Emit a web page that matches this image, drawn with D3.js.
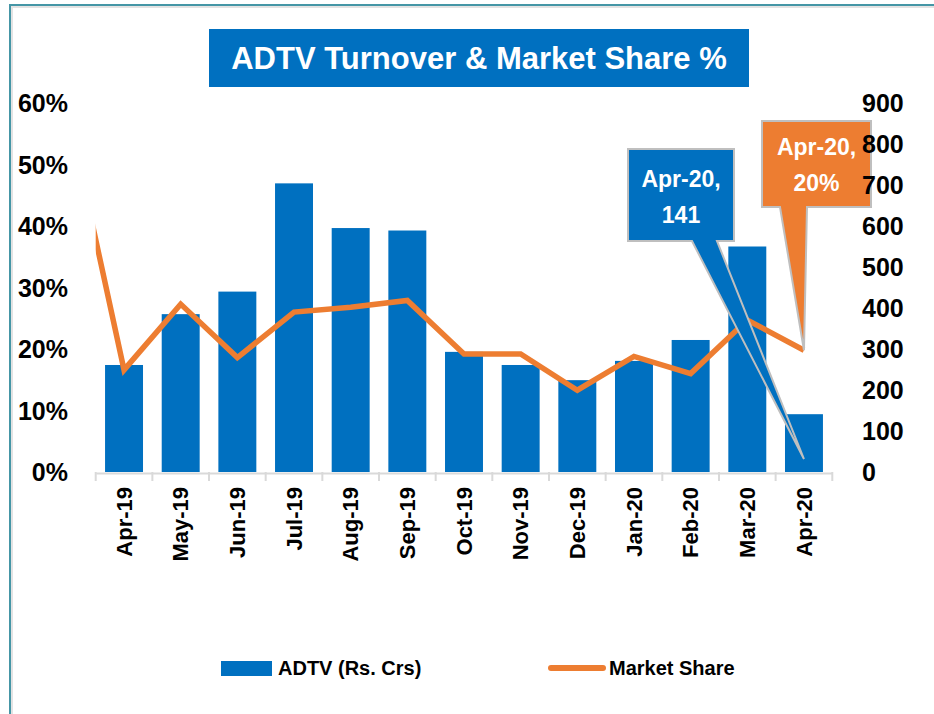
<!DOCTYPE html>
<html>
<head>
<meta charset="utf-8">
<script src="https://cdn.jsdelivr.net/npm/d3@7"></script>
<style>
  body { margin: 0; background: #fff; }
  text { font-family: "Liberation Sans", Arial, sans-serif; }
</style>
</head>
<body>
<div id="chart"></div>
<script>
// chart data
var months = ["Apr-19", "May-19", "Jun-19", "Jul-19", "Aug-19", "Sep-19", "Oct-19",
  "Nov-19", "Dec-19", "Jan-20", "Feb-20", "Mar-20", "Apr-20"];
var adtv = [261, 385, 440, 704, 595, 589, 293, 261, 224, 271, 322, 550, 141];
var marketShare = [0.166, 0.273, 0.186, 0.26, 0.268, 0.279, 0.192, 0.192, 0.133, 0.188, 0.16, 0.247, 0.198];
// previous month (Mar-19) share, only its segment into the plot is visible
var shareLeadIn = 0.59;
var leftTicks = [0, 0.1, 0.2, 0.3, 0.4, 0.5, 0.6];
var rightTicks = [0, 100, 200, 300, 400, 500, 600, 700, 800, 900];

var width = 934;
var height = 714;
var blue = "#0070c0";
var orange = "#ed7d31";

var svg = d3.select("#chart")
  .append("svg")
  .attr("width", width)
  .attr("height", height);

// outer frame (left + top edges only)
svg.append("path")
  .attr("d", "M12,714 V7 H934")
  .attr("fill", "none")
  .attr("stroke", "#e3e3e3")
  .attr("stroke-width", 2);
svg.append("path")
  .attr("d", "M10,714 V5 H934")
  .attr("fill", "none")
  .attr("stroke", "#4596a6")
  .attr("stroke-width", 2);

// title
svg.append("rect")
  .attr("x", 209)
  .attr("y", 29)
  .attr("width", 540)
  .attr("height", 58)
  .attr("fill", blue);
svg.append("text")
  .attr("x", 479)
  .attr("y", 69)
  .attr("text-anchor", "middle")
  .attr("fill", "#fff")
  .style("font-size", "31px")
  .style("font-weight", "bold")
  .text("ADTV Turnover & Market Share %");

var plotLeft = 95.7;
var plotRight = 832.3;
var plotTop = 103;
var plotBottom = 472;

var x = d3.scaleBand()
  .domain(months)
  .range([plotLeft, plotRight])
  .paddingInner(0.33)
  .paddingOuter(0.165);

var yLeft = d3.scaleLinear().domain([0, 0.6]).range([plotBottom, plotTop]);
var yRight = d3.scaleLinear().domain([0, 900]).range([plotBottom, plotTop]);

// bars
svg.selectAll(".bar")
  .data(adtv)
  .enter()
  .append("rect")
  .attr("class", "bar")
  .attr("x", function (d, i) { return x(months[i]); })
  .attr("y", function (d) { return yRight(d); })
  .attr("width", x.bandwidth())
  .attr("height", function (d) { return plotBottom - yRight(d); })
  .attr("fill", blue);

// x axis
var xAxis = svg.append("g")
  .attr("transform", "translate(0," + (plotBottom + 1) + ")")
  .call(d3.axisBottom(x).tickSize(0).tickSizeOuter(0));
xAxis.select(".domain")
  .attr("stroke", "#d9d9d9")
  .attr("stroke-width", 2);
xAxis.selectAll("text")
  .attr("transform", "rotate(-90)")
  .attr("text-anchor", "end")
  .attr("x", -14)
  .attr("y", 0)
  .attr("dy", "0.35em")
  .attr("fill", "#000")
  .style("font-size", "22px")
  .style("font-weight", "bold")
  .style("font-family", "'Liberation Sans', Arial, sans-serif");

// category boundary ticks
var bounds = d3.range(months.length + 1);
svg.selectAll(".bound")
  .data(bounds)
  .enter()
  .append("line")
  .attr("class", "bound")
  .attr("x1", function (d) { return plotLeft + d * x.step(); })
  .attr("x2", function (d) { return plotLeft + d * x.step(); })
  .attr("y1", plotBottom)
  .attr("y2", plotBottom + 9)
  .attr("stroke", "#d9d9d9")
  .attr("stroke-width", 2);

// market share line, clipped to the plot area
svg.append("clipPath")
  .attr("id", "plotClip")
  .append("rect")
  .attr("x", plotLeft)
  .attr("y", 0)
  .attr("width", plotRight - plotLeft)
  .attr("height", plotBottom + 5);

var linePoints = [[x(months[0]) + x.bandwidth() / 2 - x.step(), yLeft(shareLeadIn)]];
marketShare.forEach(function (d, i) {
  linePoints.push([x(months[i]) + x.bandwidth() / 2, yLeft(d)]);
});

svg.append("path")
  .attr("d", d3.line()(linePoints))
  .attr("clip-path", "url(#plotClip)")
  .attr("fill", "none")
  .attr("stroke", orange)
  .attr("stroke-width", 5.5)
  .attr("stroke-linejoin", "miter");

// callouts for the last month
var last = months.length - 1;
var lastX = x(months[last]) + x.bandwidth() / 2;

function callout(box, baseL, baseR, tip, fill, lines, baselines) {
  var p = "M" + box[0] + "," + box[1] +
    "H" + box[2] + "V" + box[3] +
    "H" + baseR + "L" + tip[0] + "," + tip[1] +
    "L" + baseL + "," + box[3] + "H" + box[0] + "Z";
  svg.append("path")
    .attr("d", p)
    .attr("fill", fill)
    .attr("stroke", "#bfbfbf")
    .attr("stroke-width", 2)
    .attr("stroke-linejoin", "miter");
  lines.forEach(function (t, i) {
    svg.append("text")
      .attr("x", (box[0] + box[2]) / 2)
      .attr("y", baselines[i])
      .attr("text-anchor", "middle")
      .attr("fill", "#fff")
      .style("font-size", "23px")
      .style("font-weight", "bold")
      .text(t);
  });
}

var barTip = [lastX, plotBottom - 13];
callout([628, 149, 734, 241], 692, 717, barTip, blue,
  [months[last] + ",", String(adtv[last])], [187, 223]);

var lineTip = [lastX, yLeft(marketShare[last])];
callout([762, 121, 871, 207], 780, 807, lineTip, orange,
  [months[last] + ",", Math.round(marketShare[last] * 100) + "%"], [155, 191]);

// y axes labels
svg.selectAll(".ltick")
  .data(leftTicks)
  .enter()
  .append("text")
  .attr("class", "ltick")
  .attr("x", 68)
  .attr("y", function (d) { return yLeft(d); })
  .attr("dy", "0.36em")
  .attr("text-anchor", "end")
  .style("font-size", "25px")
  .style("font-weight", "bold")
  .text(function (d) { return Math.round(d * 100) + "%"; });

svg.selectAll(".rtick")
  .data(rightTicks)
  .enter()
  .append("text")
  .attr("class", "rtick")
  .attr("x", 862)
  .attr("y", function (d) { return yRight(d); })
  .attr("dy", "0.36em")
  .attr("text-anchor", "start")
  .style("font-size", "25px")
  .style("font-weight", "bold")
  .text(function (d) { return d; });

// legend
var legend = svg.append("g");
legend.append("rect")
  .attr("x", 221)
  .attr("y", 661)
  .attr("width", 51)
  .attr("height", 15)
  .attr("fill", blue);
legend.append("text")
  .attr("x", 278)
  .attr("y", 675)
  .style("font-size", "20px")
  .style("font-weight", "bold")
  .text("ADTV (Rs. Crs)");
legend.append("line")
  .attr("x1", 551)
  .attr("x2", 603)
  .attr("y1", 668)
  .attr("y2", 668)
  .attr("stroke", orange)
  .attr("stroke-width", 6)
  .attr("stroke-linecap", "round");
legend.append("text")
  .attr("x", 609)
  .attr("y", 675)
  .style("font-size", "20px")
  .style("font-weight", "bold")
  .text("Market Share");
</script>
</body>
</html>
